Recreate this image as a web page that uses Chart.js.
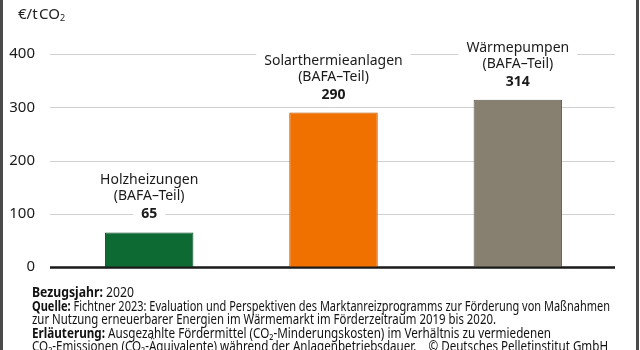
<!DOCTYPE html>
<html>
<head>
<meta charset="utf-8">
<script src="https://cdn.jsdelivr.net/npm/chart.js@4"></script>
<style>
  html, body { margin: 0; padding: 0; background: #fff; }
  #wrap { position: relative; width: 640px; height: 350px; overflow: hidden; }
  #wrap:before, #wrap:after { content: ""; position: absolute; top: 0; bottom: 0; width: 3px; background: #4a4a4a; z-index: 2; }
  #wrap:before { left: 0; }
  #wrap:after { left: 636px; }
  #chart { position: absolute; left: 0; top: 0; }
  #unit { position: absolute; left: 18px; top: 3px; font: 15px "Noto Sans", sans-serif; color: #222; }
  #unit sub { font-size: 9px; vertical-align: -2px; }
  #notes { position: absolute; left: 32px; top: 286px; font: 13.5px "Noto Sans", sans-serif; line-height: 13.6px; color: #111; white-space: nowrap; }
  #notes span { display: block; width: max-content; transform-origin: 0 0; }
  #notes b { font-weight: bold; }
</style>
</head>
<body>
<div id="wrap">
  <canvas id="chart" width="640" height="350"></canvas>
  <div id="unit">€/t&#8202;CO<sub>2</sub></div>
  <div id="notes">
    <span data-w="102"><b>Bezugsjahr:</b> 2020</span>
    <span data-w="578"><b>Quelle:</b> Fichtner 2023: Evaluation und Perspektiven des Marktanreizprogramms zur Förderung von Maßnahmen</span>
    <span data-w="464">zur Nutzung erneuerbarer Energien im Wärmemarkt im Förderzeitraum 2019 bis 2020.</span>
    <span data-w="519"><b>Erläuterung:</b> Ausgezahlte Fördermittel (CO₂-Minderungskosten) im Verhältnis zu vermiedenen</span>
    <span data-w="576">CO₂-Emissionen (CO₂-Äquivalente) während der Anlagenbetriebsdauer.&nbsp;&nbsp;&nbsp;&nbsp;© Deutsches Pelletinstitut GmbH</span>
  </div>
</div>
<script>
const categories = ["Holzheizungen", "Solarthermieanlagen", "Wärmepumpen"];
const subLabels = ["(BAFA–Teil)", "(BAFA–Teil)", "(BAFA–Teil)"];
const values = [65, 290, 314];
const barColors = ["#0e6a33", "#f07000", "#878071"];
const barBorders = ["#0a4d25", "#b85500", "#5e594f"];
const yTicks = [0, 100, 200, 300, 400];

const labelFont = '"Noto Sans", sans-serif';

// squeeze each footnote line to the condensed width of the original
document.querySelectorAll("#notes span").forEach(sp => {
  const w = sp.getBoundingClientRect().width;
  sp.style.transform = "scaleX(" + (Number(sp.dataset.w) / w) + ")";
});

// gridlines and baseline run a little wider than the plot area
const gridLines = {
  id: "gridLines",
  beforeDatasetsDraw(chart) {
    const ctx = chart.ctx;
    const y = chart.scales.y;
    ctx.save();
    yTicks.forEach(v => {
      const py = Math.round(y.getPixelForValue(v)) + 0.5;
      ctx.beginPath();
      ctx.moveTo(50, py);
      ctx.lineTo(615, py);
      ctx.strokeStyle = v === 0 ? "#1a1a1a" : "#d0d0d0";
      ctx.lineWidth = v === 0 ? 2 : 1;
      ctx.stroke();
    });
    ctx.restore();
  }
};

const barLabels = {
  id: "barLabels",
  afterDatasetsDraw(chart) {
    const ctx = chart.ctx;
    const meta = chart.getDatasetMeta(0);
    const y = chart.scales.y;
    // redraw baseline over bars
    const py0 = Math.round(y.getPixelForValue(0)) + 0.5;
    ctx.save();
    ctx.beginPath();
    ctx.moveTo(50, py0);
    ctx.lineTo(615, py0);
    ctx.strokeStyle = "#1a1a1a";
    ctx.lineWidth = 2;
    ctx.stroke();
    ctx.textAlign = "center";
    ctx.textBaseline = "middle";
    meta.data.forEach((bar, i) => {
      const x = bar.x;
      const lines = [
        { t: categories[i], y: bar.y - 52, f: "14px " + labelFont },
        { t: subLabels[i], y: bar.y - 36, f: "14px " + labelFont },
        { t: String(values[i]), y: bar.y - 18, f: "bold 14px " + labelFont }
      ];
      lines.forEach(l => {
        ctx.font = l.f;
        const w = ctx.measureText(l.t).width;
        ctx.fillStyle = "#fff";
        ctx.fillRect(x - w / 2 - 8, l.y - 8, w + 16, 16);
      });
      lines.forEach(l => {
        ctx.font = l.f;
        ctx.fillStyle = "#1a1a1a";
        ctx.fillText(l.t, x, l.y);
      });
    });
    ctx.restore();
  }
};

new Chart(document.getElementById("chart"), {
  type: "bar",
  data: {
    labels: categories,
    datasets: [{
      data: values,
      backgroundColor: barColors,
      borderColor: barBorders,
      borderWidth: 1,
      barPercentage: 0.48,
      categoryPercentage: 1
    }]
  },
  options: {
    responsive: false,
    animation: false,
    layout: { padding: { top: 54, right: 30, left: 0, bottom: 0 } },
    plugins: { legend: { display: false }, tooltip: { enabled: false } },
    scales: {
      x: {
        ticks: { display: false },
        grid: { display: false },
        border: { display: false },
        afterFit: s => { s.height = 83; }
      },
      y: {
        min: 0,
        max: 400,
        afterBuildTicks: s => { s.ticks = yTicks.map(v => ({ value: v })); },
        ticks: { color: "#1a1a1a", font: { size: 15, family: labelFont }, padding: 14 },
        grid: { display: false },
        border: { display: false },
        afterFit: s => { s.width = 57; }
      }
    }
  },
  plugins: [gridLines, barLabels]
});
</script>
</body>
</html>
